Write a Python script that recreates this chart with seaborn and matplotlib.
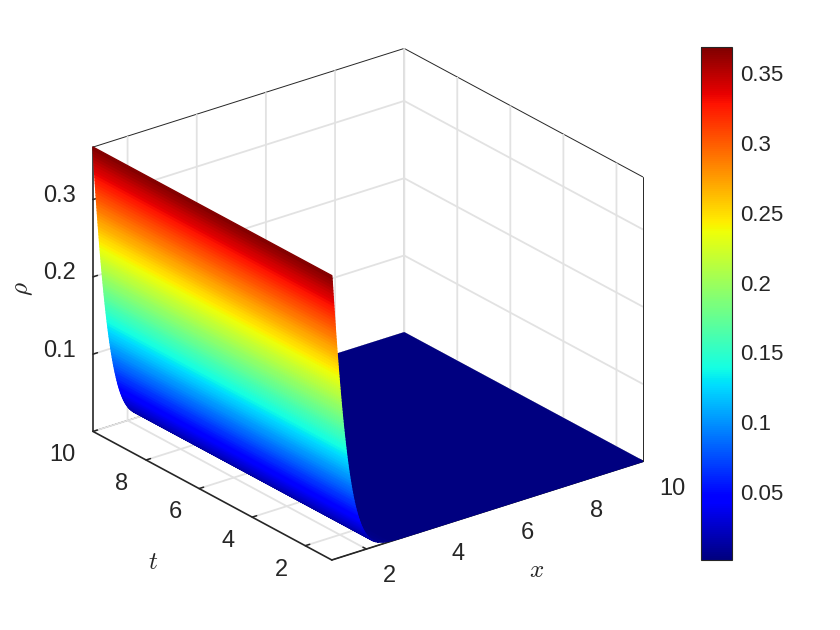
"""
plot.py - rho(x, t) surface, coloured by height with the jet map.
"""

import numpy as np
import matplotlib
matplotlib.use("Agg")  # no display here
import matplotlib.pyplot as plt
from matplotlib.transforms import Affine2D
from mpl_toolkits.mplot3d import proj3d
import seaborn as sns

x_vals = [
    1.0000, 1.0053, 1.0108, 1.0163, 1.0218, 1.0274, 1.0330, 1.0387, 1.0443, 1.0501,
    1.0558, 1.0616, 1.0674, 1.0733, 1.0792, 1.0852, 1.0912, 1.0973, 1.1034, 1.1095,
    1.1157, 1.1220, 1.1283, 1.1346, 1.1410, 1.1475, 1.1540, 1.1606, 1.1673, 1.1740,
    1.1808, 1.1877, 1.1946, 1.2016, 1.2087, 1.2159, 1.2232, 1.2305, 1.2379, 1.2455,
    1.2531, 1.2608, 1.2686, 1.2766, 1.2846, 1.2928, 1.3011, 1.3095, 1.3181, 1.3267,
    1.3356, 1.3446, 1.3537, 1.3631, 1.3725, 1.3822, 1.3921, 1.4022, 1.4125, 1.4230,
    1.4338, 1.4448, 1.4561, 1.4677, 1.4796, 1.4918, 1.5044, 1.5174, 1.5308, 1.5447,
    1.5590, 1.5738, 1.5893, 1.6053, 1.6221, 1.6396, 1.6580, 1.6773, 1.6978, 1.7194,
    1.7308, 1.7426, 1.7547, 1.7674, 1.7805, 1.7941, 1.8084, 1.8232, 1.8389, 1.8553,
    1.8726, 1.8909, 1.9104, 1.9312, 1.9536, 1.9779, 2.0043, 2.0335, 2.0661, 2.1031,
    2.1460, 2.1973, 2.2618, 2.3498, 2.4929, 2.6283, 2.7570, 2.9180, 3.0350, 3.5000,
    10.0000,
]
rho_vals = [
    .3679, .364, .360, .356, .352, .348, .344, .340, .336, .332,
    .328, .324, .320, .316, .312, .308, .304, .300, .296, .292,
    .288, .284, .280, .276, .272, .268, .264, .260, .256, .252,
    .248, .244, .240, .236, .232, .228, .224, .220, .216, .212,
    .208, .204, .200, .196, .192, .188, .184, .180, .176, .172,
    .168, .164, .160, .156, .152, .148, .144, .140, .136, .132,
    .128, .124, .120, .116, .112, .108, .104, .100, .096, .092,
    .088, .084, .080, .076, .072, .068, .064, .060, .056, .052,
    .050, .048, .046, .044, .042, .040, .038, .036, .034, .032,
    .030, .028, .026, .024, .022, .020, .018, .016, .014, .012,
    .010, .008, .006, .004, .002, .001, .0005, .0002, .0001, .0,
    .0,
]
t_vals = [1, 10]  # the surface does not change along t

x_ticks = [2, 4, 6, 8, 10]
t_ticks = [2, 4, 6, 8, 10]
z_ticks = [0.1, 0.2, 0.3]
z_labels = ["0.1", "0.2", "0.3"]
cbar_ticks = [0.05, 0.1, 0.15, 0.2, 0.25, 0.3, 0.35]
cbar_labels = ["0.05", "0.1", "0.15", "0.2", "0.25", "0.3", "0.35"]

INK = "#262626"
GRID = "#e2e2e2"

sns.set_theme(style="white")
plt.rcParams["font.family"] = ["Liberation Sans", "DejaVu Sans"]
plt.rcParams["mathtext.fontset"] = "cm"
jet = plt.get_cmap("jet")  # seaborn refuses this name

fig = plt.figure(figsize=(8.4, 6.3), dpi=100)
ax = fig.add_axes([0, 0, 1, 1], projection="3d")
ax.set_proj_type("ortho")
ax.view_init(elev=24.4, azim=-127.5)
ax.set_box_aspect((1, 1, 0.796))

X, T = np.meshgrid(x_vals, t_vals)
Z = np.tile(rho_vals, (len(t_vals), 1))
surf = ax.plot_surface(X, T, Z, cmap=jet, vmin=min(rho_vals), vmax=max(rho_vals),
                       rstride=1, cstride=1, linewidth=1.0,
                       antialiased=True, shade=False)
surf.set_edgecolor("face")

ax.set_xlim(1, 10, view_margin=0)
ax.set_ylim(1, 10, view_margin=0)
ax.set_zlim(0, max(rho_vals), view_margin=0)
ax.set_xticks(x_ticks)
ax.set_yticks(t_ticks)
ax.set_zticks(z_ticks)
ax.set_zticklabels(z_labels)

# the pane outline leaves this one box edge open
ax.plot([10, 10], [1, 1], [0, max(rho_vals)], color=INK, linewidth=0.7)

for axis in (ax.xaxis, ax.yaxis, ax.zaxis):
    axis.set_pane_color((1, 1, 1, 1))
    axis.pane.set_edgecolor(INK)
    axis.pane.set_linewidth(0.7)
    axis.line.set_color(INK)
    axis.line.set_linewidth(1.2)
    axis._axinfo["grid"].update(color=GRID, linewidth=1.3)
    axis._axinfo["tick"].update(inward_factor=0.0, outward_factor=0.18)
    axis._axinfo["tick"]["linewidth"] = {True: 1.1, False: 0.5}
    axis._axinfo["tick"]["color"] = INK
ax.tick_params(labelsize=17, colors=INK, pad=4)

# Axis3D forces the axis label onto transData, so these sit on the figure
fig.text(537 / 840, 1 - 570 / 630, r"$x$", fontsize=18, color=INK, ha="center", va="center")
fig.text(153 / 840, 1 - 562 / 630, r"$t$", fontsize=18, color=INK, ha="center", va="center")
fig.text(23 / 840, 1 - 289 / 630, r"$\rho$", fontsize=18, color=INK, ha="center", va="center",
         rotation=90)


def nudge3d(text, dx, dy):
    # dx, dy in pixels, dy downwards. Axis3D resets the transform on every
    # draw, so block that for these labels.
    text.set_transform(ax.transData + Affine2D().translate(dx, -dy))
    text.set_transform = lambda tr: None


for label in ax.get_xticklabels():
    label.set_ha("left")
    nudge3d(label, 4, -5)
for label in ax.get_yticklabels():
    label.set_ha("right")
    nudge3d(label, -1.5, -7)
for label in ax.get_zticklabels():
    label.set_ha("right")
    nudge3d(label, 11.5, -13)


def corner_px(points):
    fig.canvas.draw()
    xs, ys, _ = proj3d.proj_transform(*np.array(points).T, ax.get_proj())
    return ax.transData.transform(np.column_stack([xs, ys]))


# fit the box on the figure: left corner, right corner, bottom corner
corners = [(1, 10, 0), (10, 1, 0), (1, 1, 0), (1, 10, max(rho_vals))]
for _ in range(2):
    px = corner_px(corners)
    scale = 550 / (px[1, 0] - px[0, 0])
    pos = ax.get_position()
    w, h = pos.width * scale, pos.height * scale
    ax.set_position([pos.x0, pos.y0, w, h])
    px = corner_px(corners)
    dx = (93 - px[0, 0]) / 840
    dy = ((630 - 560) - px[2, 1]) / 630
    pos = ax.get_position()
    ax.set_position([pos.x0 + dx, pos.y0 + dy, pos.width, pos.height])

cax = fig.add_axes([701 / 840, 70 / 630, 31 / 840, 513 / 630])
cb = fig.colorbar(surf, cax=cax)
cb.set_ticks(cbar_ticks)
cb.set_ticklabels(cbar_labels)
cb.ax.tick_params(direction="in", length=4, width=0.7, color=INK, labelcolor=INK,
                  labelsize=16, pad=6, right=True)
cb.outline.set_edgecolor(INK)
cb.outline.set_linewidth(0.8)
for label in cb.ax.get_yticklabels():
    label.set_transform(label.get_transform() + Affine2D().translate(0, -1.5))

fig.savefig("out.png", dpi=100, facecolor="white")
